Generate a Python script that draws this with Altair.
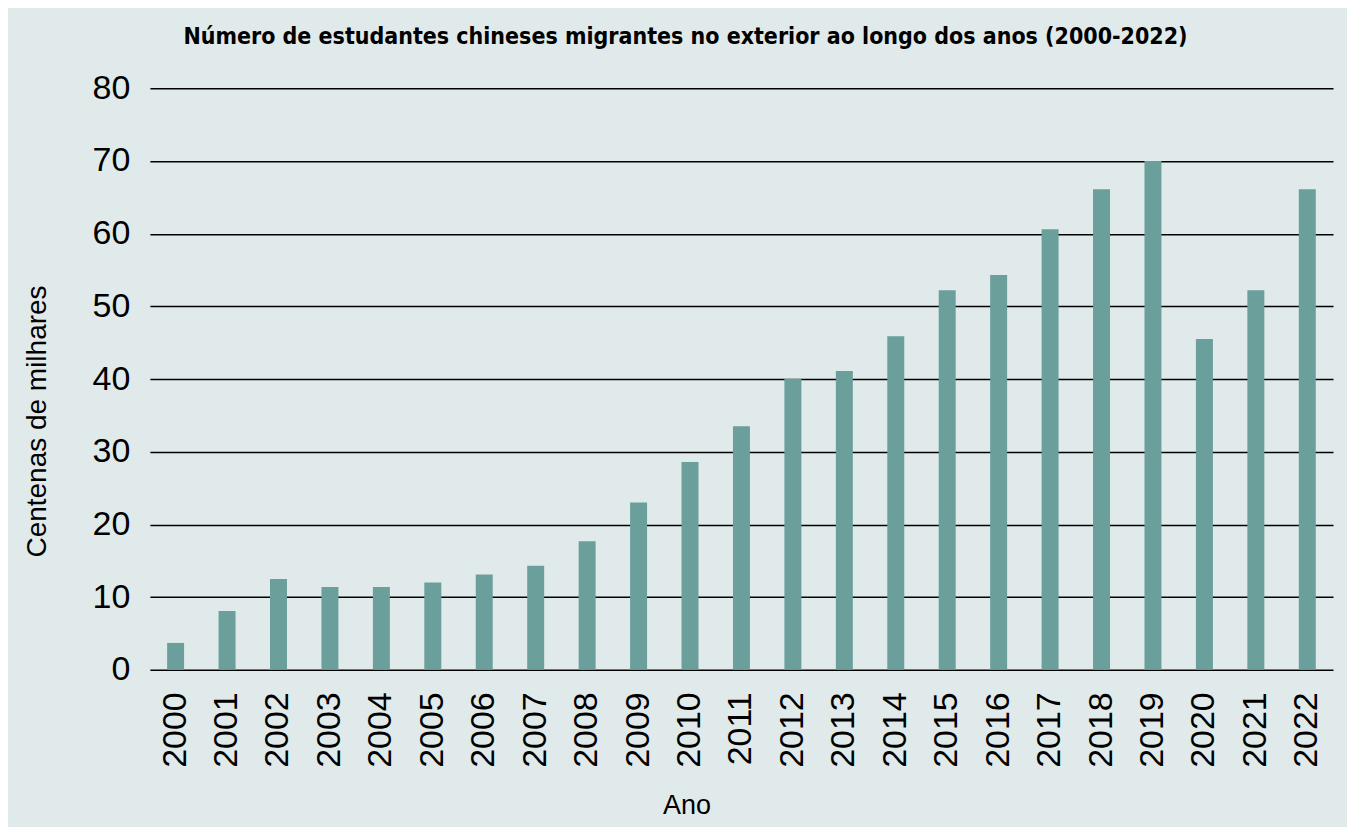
import altair as alt
import pandas as pd

years = [str(y) for y in range(2000, 2023)]
values = [3.7, 8.1, 12.5, 11.4, 11.4, 12.0, 13.1, 14.3, 17.7, 23.0, 28.6, 33.5,
          40.0, 41.1, 45.9, 52.2, 54.3, 60.6, 66.1, 70.0, 45.5, 52.2, 66.1]

df = pd.DataFrame({"Ano": years, "Valor": values})

BG = "#e0eaea"
BAR = "#6a9f9c"

chart = alt.Chart(df).mark_bar(color=BAR).encode(
    x=alt.X("Ano:N", title="Ano",
            scale=alt.Scale(paddingInner=0.67, paddingOuter=0.335),
            axis=alt.Axis(labelAngle=-90, labelFontSize=34, labelFont="Liberation Sans",
                          labelColor="#000", ticks=False, domain=False, labelPadding=22,
                          titleFontSize=27, titleFont="Liberation Sans", titleFontWeight="normal",
                          titleColor="#000", titlePadding=25, titleX=537)),
    y=alt.Y("Valor:Q", title="Centenas de milhares",
            scale=alt.Scale(domain=[0, 80]),
            axis=alt.Axis(values=list(range(0, 81, 10)), labelFontSize=34, labelFont="Liberation Sans",
                          labelColor="#000", ticks=False, domain=False, labelPadding=20,
                          grid=True, gridColor="#000", gridWidth=1.5, gridOpacity=1,
                          titleFontSize=28, titleFont="Liberation Sans", titleFontWeight="normal",
                          titleColor="#000", titlePadding=41, titleY=333)),
).properties(
    width=1184, height=582,
    background=BG,
    padding={"left": 142, "top": 80, "right": 14, "bottom": 162},
    autosize=alt.AutoSizeParams(type="none"),
    title=alt.TitleParams("Número de estudantes chineses migrantes no exterior ao longo dos anos (2000-2022)",
                          font="DejaVu Sans Condensed, Liberation Sans, sans-serif", fontSize=23, fontWeight="bold",
                          color="#000", anchor="middle", dx=-56, offset=22),
).configure_view(stroke=None)

chart.save("out.html", embed_options={"renderer": "svg", "actions": False})
